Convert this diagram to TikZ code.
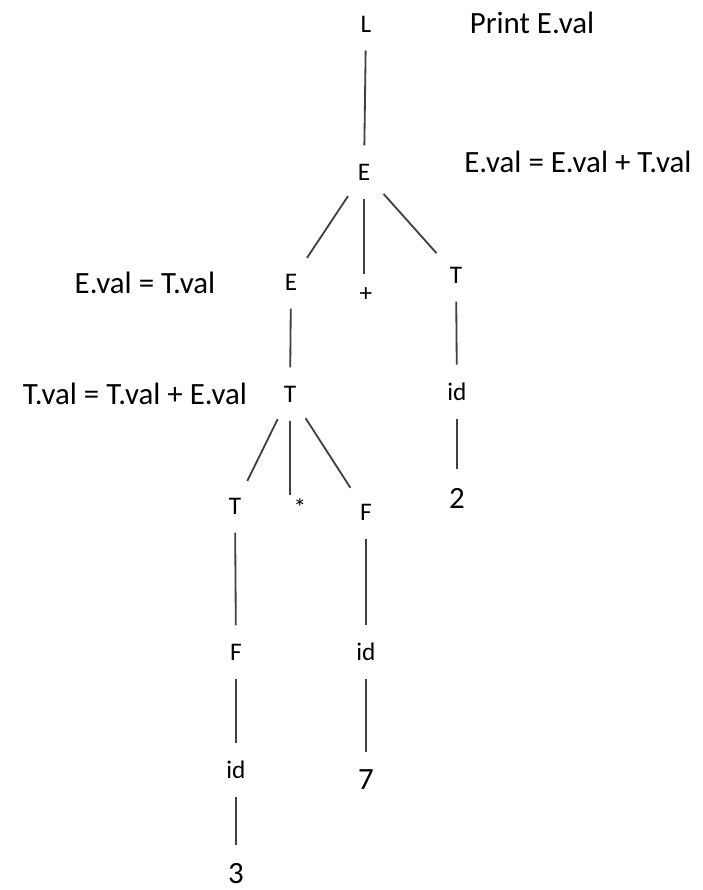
\documentclass[tikz,border=0pt]{standalone}
\usepackage{fontspec}
\setmainfont{Carlito}
\begin{document}
\begin{tikzpicture}[x=0.025cm,y=-0.025cm,
  sym/.style={font=\fontsize{18}{21}\selectfont, inner sep=2pt},
  big/.style={font=\fontsize{22}{26}\selectfont, inner sep=2pt},
  edge/.style={draw=black!75, line width=1.3pt, shorten <=11pt, shorten >=11pt}]
\useasboundingbox (0,0) rectangle (703,890);
% parse tree
\node[sym] (l) at (366,24) {L};
\node[sym] (e) at (364,172) {E};
\node[sym] (e1) at (291,282) {E};
\node[sym] (plus) at (366,295) {+};
\node[sym] (t1) at (456,275) {T};
\node[sym] (id1) at (457,392) {id};
\node[big] (n2) at (457,498) {2};
\node[sym] (t) at (290,394) {T};
\node[sym] (t2) at (235,506) {T};
\node[sym] (star) at (300,508) {*};
\node[sym] (f) at (366,512) {F};
\node[sym] (f2) at (236,652) {F};
\node[sym] (id2) at (236,770) {id};
\node[big] (n3) at (236,874) {3};
\node[sym] (id3) at (366,652) {id};
\node[big] (n7) at (366,780) {7};
% semantic rules
\node[big] (r0) at (532,23) {Print E.val};
\node[big] (r1) at (578,162) {E.val = E.val + T.val};
\node[big] (r2) at (145,283) {E.val = T.val};
\node[big] (r3) at (135,394) {T.val = T.val + E.val};
% edges
\foreach \a/\b in {l/e, e/e1, e/t1, t1/id1, id1/n2, e1/t, t/t2, t/f,
    t2/f2, f2/id2, id2/n3, f/id3, id3/n7}
  \draw[edge] (\a) -- (\b);
\draw[edge, shorten >=8pt] (e) -- (e |- plus.north);
\draw[edge, shorten >=1pt] (t) -- (t |- star.north);
\end{tikzpicture}
\end{document}
